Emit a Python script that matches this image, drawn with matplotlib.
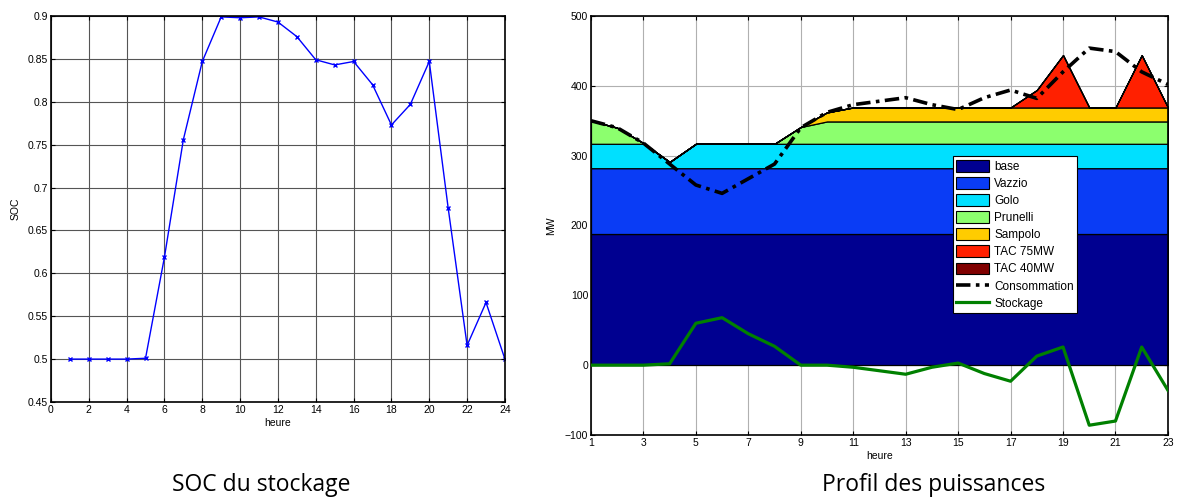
import numpy as np
import matplotlib.pyplot as plt
from matplotlib.ticker import FormatStrFormatter
from matplotlib.patches import Patch
from matplotlib.lines import Line2D

# ── Data ──────────────────────────────────────────────────────────
soc_hours = np.arange(1, 25)
soc = [0.500, 0.500, 0.500, 0.500, 0.501, 0.619, 0.756, 0.847, 0.899, 0.898,
       0.899, 0.893, 0.876, 0.849, 0.843, 0.847, 0.820, 0.773, 0.797, 0.847,
       0.676, 0.516, 0.566, 0.500]

hours = np.arange(1, 24)
base     = [188] * 23
vazzio   = [94] * 23
golo     = [35, 35, 35, 9] + [35] * 19
prunelli = [33, 23, 1, 0, 0, 0, 0, 0, 24] + [32] * 14
sampolo  = [0] * 9 + [13] + [20] * 13
tac75    = [0] * 17 + [25, 75, 0, 0, 75, 0]
tac40    = [0] * 23
conso    = [350, 340, 318, 288, 258, 246, 267, 288, 340, 362, 373, 378,
            383, 373, 366, 383, 394, 382, 420, 454, 449, 420, 402]
stockage = [0, 0, 0, 2, 60, 68, 45, 27, 0, 0, -3, -8, -13, -3, 3, -12,
            -23, 13, 26, -86, -80, 26, -36]

layer_names  = ["base", "Vazzio", "Golo", "Prunelli", "Sampolo", "TAC 75MW", "TAC 40MW"]
layer_colors = ["#000090", "#0a3cf5", "#00e0ff", "#8cff6e", "#ffcc00", "#ff2000", "#800000"]

plt.rcParams["font.family"] = ["Liberation Sans", "DejaVu Sans"]
TICK_FS = 7.5

fig = plt.figure(figsize=(11.77, 4.98), dpi=100, facecolor="white")

# ── Left: SOC ─────────────────────────────────────────────────────
ax1 = fig.add_axes([0.0433, 0.1928, 0.3857, 0.775])
ax1.plot(soc_hours, soc, color="blue", lw=1.0, marker="x", ms=3.5, mew=1.0)
ax1.set_xlim(0, 24)
ax1.set_ylim(0.45, 0.9)
ax1.set_xticks(np.arange(0, 25, 2))
ax1.set_yticks(np.arange(0.45, 0.901, 0.05))
ax1.yaxis.set_major_formatter(FormatStrFormatter("%g"))
ax1.grid(True, color="#555555", lw=0.8)
ax1.set_xlabel("heure", fontsize=TICK_FS, labelpad=2)
ax1.set_ylabel("SOC", fontsize=TICK_FS, labelpad=5)

# ── Right: power profile ──────────────────────────────────────────
ax2 = fig.add_axes([0.5021, 0.1265, 0.4902, 0.8414])
ax2.set_axisbelow(True)
ax2.grid(True, color="#b0b0b0", lw=0.8)
ax2.stackplot(hours, base, vazzio, golo, prunelli, sampolo, tac75, tac40,
              colors=layer_colors, edgecolor="black", linewidth=0.9, zorder=2)
ax2.plot(hours, conso, color="black", lw=2.6, dashes=(4, 1.5, 1, 1.5), zorder=3)
ax2.plot(hours, stockage, color="#008000", lw=2.3, zorder=3)
ax2.set_xlim(1, 23)
ax2.set_ylim(-100, 500)
ax2.set_xticks(np.arange(1, 24, 2))
ax2.set_yticks(np.arange(-100, 501, 100))
ax2.set_xlabel("heure", fontsize=TICK_FS, labelpad=2)
ax2.set_ylabel("MW", fontsize=TICK_FS, labelpad=6)

handles = [Patch(facecolor=c, edgecolor="black", lw=0.8) for c in layer_colors]
handles += [Line2D([], [], color="black", lw=2.6, dashes=(4, 1.5, 1, 1.5)),
            Line2D([], [], color="#008000", lw=2.3)]
leg = ax2.legend(handles, layer_names + ["Consommation", "Stockage"],
                 loc="upper left", bbox_to_anchor=(0.627, 0.665),
                 fontsize=8.5, frameon=True, fancybox=False,
                 edgecolor="black", framealpha=1, borderpad=0.3,
                 labelspacing=0.36, handlelength=2.8, handleheight=1.15,
                 handletextpad=0.4, borderaxespad=0)
leg.get_frame().set_linewidth(0.8)
leg.set_zorder(5)

for ax in (ax1, ax2):
    ax.tick_params(direction="in", length=3, width=0.8, labelsize=TICK_FS,
                   top=True, right=True, pad=2)
    for s in ax.spines.values():
        s.set_linewidth(1.2)

fig.text(0.222, 0.026, "SOC du stockage", ha="center", va="center",
         fontsize=16.5, family=["Open Sans", "DejaVu Sans"])
fig.text(0.793, 0.026, "Profil des puissances", ha="center", va="center",
         fontsize=16.5, family=["Open Sans", "DejaVu Sans"])

fig.savefig("out.png", dpi=100, facecolor="white")
plt.close(fig)
